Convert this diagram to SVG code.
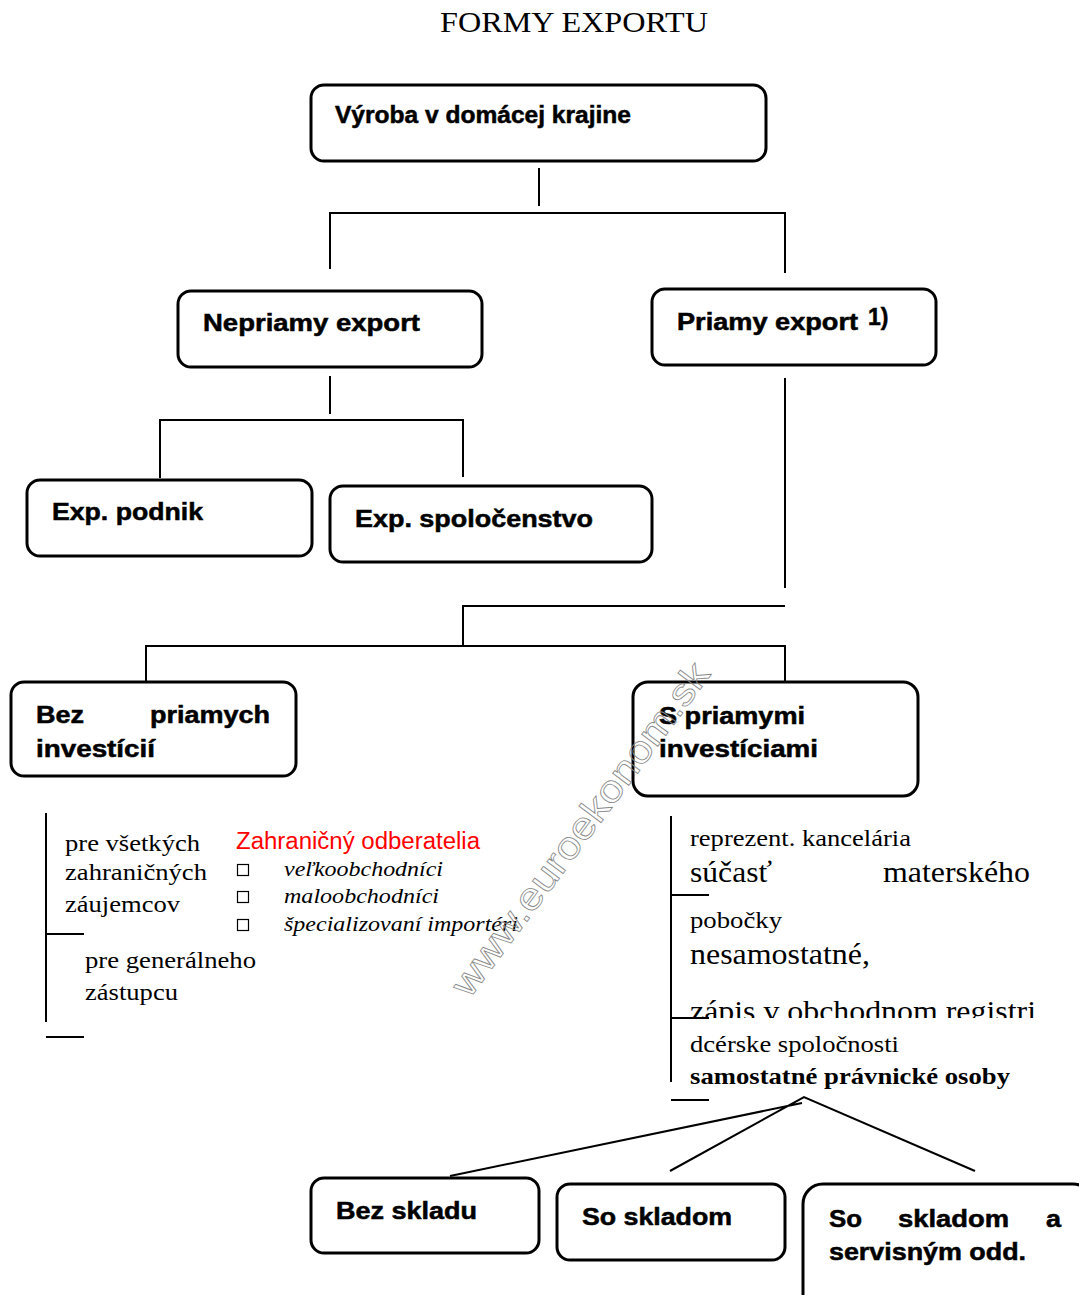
<svg xmlns="http://www.w3.org/2000/svg" width="1079" height="1295" viewBox="0 0 1079 1295">
<style>
.box{fill:#fff;stroke:#000;stroke-width:3}
.lbl{font-family:"Liberation Sans",Arial,sans-serif;font-weight:bold;font-size:23px;fill:#000;stroke:#000;stroke-width:0.5}
.ln{stroke:#000;stroke-width:2;fill:none}
.tm{font-family:"Liberation Serif","Times New Roman",serif;fill:#000}
.it{font-family:"Liberation Serif","Times New Roman",serif;font-style:italic;font-size:21px;fill:#000}
.chk{fill:#fff;stroke:#000;stroke-width:1.2}
</style>
<defs>
<clipPath id="cz"><rect x="680" y="990" width="380" height="28"/></clipPath>
</defs>
<rect width="1079" height="1295" fill="#fff"/>
<text x="440" y="32" class="tm" font-size="30" textLength="268" lengthAdjust="spacingAndGlyphs">FORMY EXPORTU</text>

<g id="connectors">
<path class="ln" d="M539,168 V206 M330,269 V213 H785 V273"/>
<path class="ln" d="M330,376 V414 M160,478 V420 H463 V477"/>
<path class="ln" d="M785,378 V588 M785,606 H463 V646 M146,684 V646 H785 V684"/>
<path class="ln" d="M46,813 V1022 M46,934 H84 M46,1037 H84"/>
<path class="ln" d="M671,816 V1082 M671,895 H709 M671,1018 H709 M671,1100 H709"/>
<path class="ln" d="M450,1176 L802,1103 M670,1171 L804,1097 L975,1171"/>
</g>

<g id="n-vyroba">
<rect class="box" x="311" y="85" width="455" height="76" rx="13"/>
<text class="lbl" x="335" y="123" font-size="20" textLength="296" lengthAdjust="spacingAndGlyphs">Výroba v domácej krajine</text>
</g>
<g id="n-nepriamy">
<rect class="box" x="178" y="291" width="304" height="76" rx="13"/>
<text class="lbl" x="203" y="331" textLength="217" lengthAdjust="spacingAndGlyphs">Nepriamy export</text>
</g>
<g id="n-priamy">
<rect class="box" x="652" y="289" width="284" height="76" rx="13"/>
<text class="lbl" x="677" y="330" textLength="181" lengthAdjust="spacingAndGlyphs">Priamy export</text>
<text class="lbl" x="868" y="325" font-size="12" stroke-width="0.3">1)</text>
</g>
<g id="n-podnik">
<rect class="box" x="27" y="480" width="285" height="76" rx="13"/>
<text class="lbl" x="52" y="520" textLength="151" lengthAdjust="spacingAndGlyphs">Exp. podnik</text>
</g>
<g id="n-spolocenstvo">
<rect class="box" x="330" y="486" width="322" height="76" rx="13"/>
<text class="lbl" x="355" y="527" textLength="238" lengthAdjust="spacingAndGlyphs">Exp. spoločenstvo</text>
</g>
<g id="n-bez-priamych">
<rect class="box" x="11" y="682" width="285" height="94" rx="13"/>
<text class="lbl" x="36" y="723" textLength="48" lengthAdjust="spacingAndGlyphs">Bez</text>
<text class="lbl" x="150" y="723" textLength="120" lengthAdjust="spacingAndGlyphs">priamych</text>
<text class="lbl" x="36" y="757" textLength="119" lengthAdjust="spacingAndGlyphs">investícií</text>
</g>
<g id="n-s-priamymi">
<rect class="box" x="633" y="682" width="285" height="114" rx="15"/>
<text class="lbl" x="659" y="724" textLength="146" lengthAdjust="spacingAndGlyphs">S priamymi</text>
<text class="lbl" x="659" y="757" textLength="159" lengthAdjust="spacingAndGlyphs">investíciami</text>
</g>

<g id="t-left">
<text class="tm" x="65" y="851" font-size="24" textLength="135" lengthAdjust="spacingAndGlyphs">pre všetkých</text>
<text class="tm" x="65" y="880" font-size="24" textLength="142" lengthAdjust="spacingAndGlyphs">zahraničných</text>
<text class="tm" x="65" y="912" font-size="24" textLength="115" lengthAdjust="spacingAndGlyphs">záujemcov</text>
<text class="tm" x="85" y="968" font-size="24" textLength="171" lengthAdjust="spacingAndGlyphs">pre generálneho</text>
<text class="tm" x="85" y="1000" font-size="24" textLength="93" lengthAdjust="spacingAndGlyphs">zástupcu</text>
</g>
<g id="t-odberatelia">
<text x="236" y="849" font-family="Liberation Sans, Arial, sans-serif" font-size="23" fill="#ff0000" textLength="244" lengthAdjust="spacingAndGlyphs">Zahraničný odberatelia</text>
<rect class="chk" x="237.5" y="864.5" width="11" height="11"/>
<rect class="chk" x="237.5" y="891.5" width="11" height="11"/>
<rect class="chk" x="237.5" y="919.5" width="11" height="11"/>
<text class="it" x="284" y="876" textLength="159" lengthAdjust="spacingAndGlyphs">veľkoobchodníci</text>
<text class="it" x="284" y="903" textLength="155" lengthAdjust="spacingAndGlyphs">maloobchodníci</text>
<text class="it" x="284" y="931" textLength="234" lengthAdjust="spacingAndGlyphs">špecializovaní importéri</text>
</g>
<g id="t-right">
<text class="tm" x="690" y="846" font-size="23" textLength="221" lengthAdjust="spacingAndGlyphs">reprezent. kancelária</text>
<text class="tm" x="690" y="882" font-size="29" textLength="82" lengthAdjust="spacingAndGlyphs">súčasť</text>
<text class="tm" x="883" y="882" font-size="29" textLength="147" lengthAdjust="spacingAndGlyphs">materského</text>
<text class="tm" x="690" y="928" font-size="23" textLength="92" lengthAdjust="spacingAndGlyphs">pobočky</text>
<text class="tm" x="690" y="964" font-size="29" textLength="180" lengthAdjust="spacingAndGlyphs">nesamostatné,</text>
<g clip-path="url(#cz)"><text class="tm" x="690" y="1021" font-size="29" textLength="346" lengthAdjust="spacingAndGlyphs">zápis v obchodnom registri</text></g>
<text class="tm" x="690" y="1052" font-size="23" textLength="209" lengthAdjust="spacingAndGlyphs">dcérske spoločnosti</text>
<text class="tm" x="690" y="1084" font-size="23" font-weight="bold" textLength="320" lengthAdjust="spacingAndGlyphs">samostatné právnické osoby</text>
</g>

<g id="n-bez-skladu">
<rect class="box" x="311" y="1178" width="228" height="75" rx="13"/>
<text class="lbl" x="336" y="1219" textLength="141" lengthAdjust="spacingAndGlyphs">Bez skladu</text>
</g>
<g id="n-so-skladom">
<rect class="box" x="557" y="1184" width="228" height="76" rx="13"/>
<text class="lbl" x="582" y="1225" textLength="150" lengthAdjust="spacingAndGlyphs">So skladom</text>
</g>
<g id="n-so-skladom-servis">
<rect class="box" x="803" y="1184" width="290" height="130" rx="20"/>
<text class="lbl" x="829" y="1227" textLength="33" lengthAdjust="spacingAndGlyphs">So</text>
<text class="lbl" x="898" y="1227" textLength="111" lengthAdjust="spacingAndGlyphs">skladom</text>
<text class="lbl" x="1046" y="1227" textLength="15" lengthAdjust="spacingAndGlyphs">a</text>
<text class="lbl" x="829" y="1260" textLength="197" lengthAdjust="spacingAndGlyphs">servisným odd.</text>
</g>

<g id="watermark">
<text transform="translate(580,829) rotate(-53.3)" y="13" text-anchor="middle" font-family="Liberation Sans, Arial, sans-serif" font-size="38" fill="none" stroke="#888" stroke-width="0.8" textLength="405" lengthAdjust="spacingAndGlyphs">www.euroekonom.sk</text>
</g>
</svg>
